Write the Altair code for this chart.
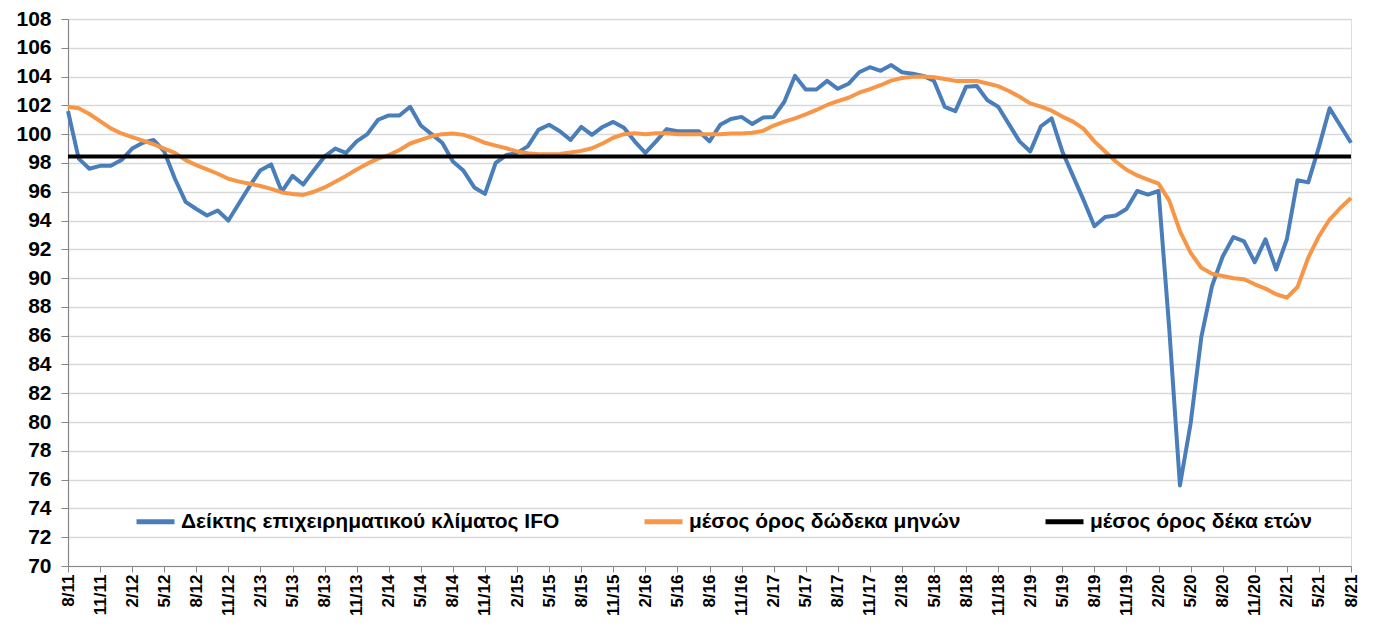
import altair as alt
import pandas as pd

# ---- categories (monthly, 8/11 .. 8/21) ----
start_month, start_year, n_months = 8, 2011, 121
months = []
m, y = start_month, start_year
for _ in range(n_months):
    months.append(f"{m}/{y % 100:02d}")
    m += 1
    if m > 12:
        m, y = 1, y + 1
tick_labels = months[::3]

s_ifo = "Δείκτης επιχειρηματικού κλίματος IFO"
s_avg12 = "μέσος όρος δώδεκα μηνών"
s_avg10y = "μέσος όρος δέκα ετών"

ifo = [
    101.6, 98.3, 97.6, 97.8, 97.8, 98.2, 99.0, 99.4, 99.6, 98.8,
    96.9, 95.3, 94.8, 94.35, 94.7, 94.0, 95.2, 96.4, 97.5, 97.9,
    96.0, 97.1, 96.5, 97.5, 98.45, 99.0, 98.7, 99.5, 100.0, 101.0,
    101.3, 101.3, 101.9, 100.6, 100.0, 99.4, 98.1, 97.45, 96.3, 95.85,
    98.0, 98.55, 98.7, 99.15, 100.3, 100.65, 100.2, 99.6, 100.5, 99.95,
    100.5, 100.85, 100.45, 99.5, 98.7, 99.5, 100.35, 100.2, 100.2, 100.2,
    99.5, 100.65, 101.05, 101.2, 100.7, 101.15, 101.2, 102.25, 104.05, 103.1,
    103.1, 103.7, 103.15, 103.5, 104.3, 104.65, 104.4, 104.8, 104.3, 104.2,
    104.05, 103.7, 101.9, 101.6, 103.3, 103.35, 102.35, 101.9, 100.7, 99.5,
    98.8, 100.55, 101.1, 98.8, 97.1, 95.4, 93.6, 94.25, 94.35, 94.8,
    96.05, 95.8, 96.05, 86.5, 75.6, 79.9, 85.9, 89.45, 91.5, 92.85,
    92.55, 91.1, 92.7, 90.6, 92.7, 96.8, 96.65, 99.1, 101.8, 100.6,
    99.4,
]

avg12 = [
    101.9, 101.8, 101.4, 100.9, 100.4, 100.05, 99.8, 99.55, 99.3, 99.0,
    98.7, 98.2, 97.85, 97.55, 97.25, 96.9, 96.7, 96.55, 96.4, 96.2,
    95.95, 95.85, 95.78, 96.0, 96.3, 96.7, 97.1, 97.55, 97.95, 98.3,
    98.55, 98.9, 99.35, 99.6, 99.85, 100.0, 100.05, 99.95, 99.7, 99.4,
    99.2, 99.02, 98.8, 98.68, 98.6, 98.6, 98.63, 98.72, 98.84, 99.02,
    99.35, 99.75, 100.0, 100.06, 100.0, 100.06, 100.06, 100.0, 100.0, 100.0,
    100.0, 100.0, 100.04, 100.04, 100.1, 100.23, 100.6, 100.87, 101.1, 101.38,
    101.68, 102.03, 102.3, 102.53, 102.88, 103.13, 103.4, 103.72, 103.9, 103.98,
    104.0, 103.96, 103.83, 103.7, 103.69, 103.69, 103.52, 103.34, 103.0, 102.6,
    102.14, 101.91, 101.63, 101.22, 100.87, 100.37, 99.5, 98.8, 98.1, 97.53,
    97.13, 96.84, 96.56, 95.38, 93.26, 91.76, 90.72, 90.3, 90.15, 89.99,
    89.92, 89.57, 89.27, 88.88, 88.64, 89.38, 91.41, 92.91, 94.07, 94.87,
    95.56,
]

avg10y = 98.45

series_names = [s_ifo, s_avg12, s_avg10y]
series_colors = ["#4a7ebb", "#f79646", "#000000"]

rows = []
for mo, v in zip(months, ifo):
    rows.append({"month": mo, "value": v, "series": s_ifo})
for mo, v in zip(months, avg12):
    rows.append({"month": mo, "value": v, "series": s_avg12})
for mo in (months[0], months[-1]):
    rows.append({"month": mo, "value": avg10y, "series": s_avg10y})
df = pd.DataFrame(rows)

FONT = "Liberation Sans"

x_enc = alt.X(
    "month:O",
    sort=months,
    scale=alt.Scale(type="point", padding=0),
    axis=alt.Axis(
        values=tick_labels,
        title=None,
        labelAngle=-90,
        labelFont=FONT,
        labelFontSize=17,
        labelFontWeight="bold",
        labelColor="#000000",
        labelPadding=2,
        tickColor="#868686",
        tickSize=6,
        domainColor="#868686",
        domainWidth=1.2,
        grid=False,
    ),
)
y_enc = alt.Y(
    "value:Q",
    scale=alt.Scale(domain=[70, 108], nice=False, zero=False),
    axis=alt.Axis(
        values=list(range(70, 109, 2)),
        title=None,
        labelFont=FONT,
        labelFontSize=21,
        labelFontWeight="bold",
        labelColor="#000000",
        labelPadding=10,
        tickColor="#868686",
        tickSize=7,
        domainColor="#868686",
        domainWidth=1.2,
        grid=True,
        gridColor="#d9d9d9",
        gridWidth=1.5,
    ),
)
color_enc = alt.Color(
    "series:N",
    scale=alt.Scale(domain=series_names, range=series_colors),
    legend=alt.Legend(
        title=None,
        orient="none",
        legendX=66,
        legendY=481,
        direction="horizontal",
        columns=3,
        columnPadding=74,
        symbolType="stroke",
        symbolSize=1444,
        symbolStrokeWidth=5,
        labelFont=FONT,
        labelFontSize=21,
        labelFontWeight="bold",
        labelColor="#000000",
        labelOffset=4,
        labelLimit=800,
    ),
)

base = alt.Chart(df).encode(x=x_enc, y=y_enc, color=color_enc)

layers = [
    base.transform_filter(alt.datum.series == s).mark_line(strokeWidth=4, strokeJoin="round")
    for s in series_names
]

chart = (
    alt.layer(*layers)
    .properties(
        width=1283,
        height=547,
        autosize=alt.AutoSizeParams(type="none"),
        padding={"left": 60, "top": 11, "right": 12, "bottom": 51},
    )
    .configure_view(stroke=None)
    .configure(background="white")
)

chart.save("out.html", embed_options={"renderer": "svg", "actions": False})
